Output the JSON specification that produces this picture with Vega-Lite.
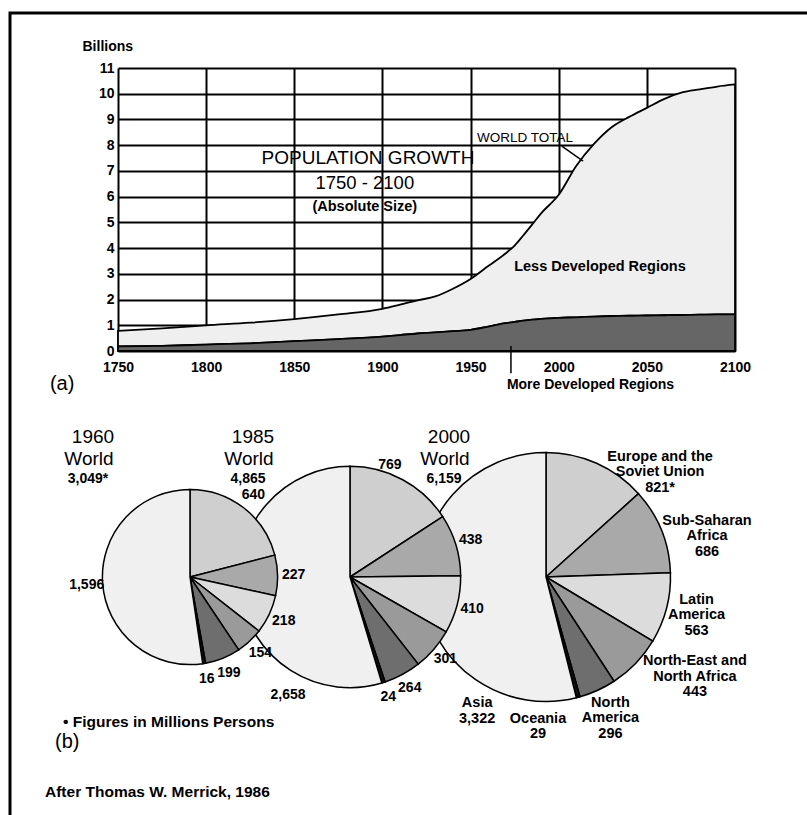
{
  "$schema": "https://vega.github.io/schema/vega-lite/v6.json",
  "width": 800,
  "height": 805,
  "autosize": {"type": "none"},
  "padding": {"left": 10, "top": 13, "right": 0, "bottom": 0},
  "background": "white",
  "config": {
    "view": {"stroke": "black", "strokeWidth": 3},
    "font": "Liberation Sans",
    "text": {"font": "Liberation Sans", "fill": "black"},
    "axis": {"labelFont": "Liberation Sans", "titleFont": "Liberation Sans"}
  },
  "datasets": {
    "pop": [
      {"year": 1750, "world": 0.78, "mdr": 0.18},
      {"year": 1775, "world": 0.88, "mdr": 0.20},
      {"year": 1800, "world": 1.00, "mdr": 0.25},
      {"year": 1825, "world": 1.10, "mdr": 0.30},
      {"year": 1850, "world": 1.24, "mdr": 0.38},
      {"year": 1875, "world": 1.42, "mdr": 0.46},
      {"year": 1900, "world": 1.64, "mdr": 0.56},
      {"year": 1910, "world": 1.80, "mdr": 0.62},
      {"year": 1920, "world": 1.97, "mdr": 0.68},
      {"year": 1930, "world": 2.12, "mdr": 0.72},
      {"year": 1940, "world": 2.42, "mdr": 0.77},
      {"year": 1950, "world": 2.80, "mdr": 0.82},
      {"year": 1960, "world": 3.30, "mdr": 0.95},
      {"year": 1970, "world": 3.80, "mdr": 1.08},
      {"year": 1975, "world": 4.10, "mdr": 1.13},
      {"year": 1980, "world": 4.50, "mdr": 1.18},
      {"year": 1985, "world": 4.92, "mdr": 1.22},
      {"year": 1990, "world": 5.35, "mdr": 1.25},
      {"year": 2000, "world": 6.07, "mdr": 1.29},
      {"year": 2010, "world": 7.20, "mdr": 1.31},
      {"year": 2020, "world": 8.05, "mdr": 1.34},
      {"year": 2030, "world": 8.70, "mdr": 1.36},
      {"year": 2040, "world": 9.10, "mdr": 1.37},
      {"year": 2050, "world": 9.45, "mdr": 1.38},
      {"year": 2060, "world": 9.80, "mdr": 1.39},
      {"year": 2070, "world": 10.05, "mdr": 1.40},
      {"year": 2080, "world": 10.17, "mdr": 1.41},
      {"year": 2090, "world": 10.28, "mdr": 1.42},
      {"year": 2100, "world": 10.36, "mdr": 1.42}
    ],
    "p1960": [
      {"pie": "1960", "total": 3049, "rank": 1, "region": "Europe and the Soviet Union", "value": 640, "label": "640"},
      {"pie": "1960", "total": 3049, "rank": 2, "region": "Sub-Saharan Africa", "value": 227, "label": "227"},
      {"pie": "1960", "total": 3049, "rank": 3, "region": "Latin America", "value": 218, "label": "218"},
      {"pie": "1960", "total": 3049, "rank": 4, "region": "North-East and North Africa", "value": 154, "label": "154"},
      {"pie": "1960", "total": 3049, "rank": 5, "region": "North America", "value": 199, "label": "199"},
      {"pie": "1960", "total": 3049, "rank": 6, "region": "Oceania", "value": 16, "label": "16"},
      {"pie": "1960", "total": 3049, "rank": 7, "region": "Asia", "value": 1596, "label": "1,596"}
    ],
    "p1985": [
      {"pie": "1985", "total": 4865, "rank": 1, "region": "Europe and the Soviet Union", "value": 769, "label": "769"},
      {"pie": "1985", "total": 4865, "rank": 2, "region": "Sub-Saharan Africa", "value": 438, "label": "438"},
      {"pie": "1985", "total": 4865, "rank": 3, "region": "Latin America", "value": 410, "label": "410"},
      {"pie": "1985", "total": 4865, "rank": 4, "region": "North-East and North Africa", "value": 301, "label": "301"},
      {"pie": "1985", "total": 4865, "rank": 5, "region": "North America", "value": 264, "label": "264"},
      {"pie": "1985", "total": 4865, "rank": 6, "region": "Oceania", "value": 24, "label": "24"},
      {"pie": "1985", "total": 4865, "rank": 7, "region": "Asia", "value": 2658, "label": "2,658"}
    ],
    "p2000": [
      {"pie": "2000", "total": 6159, "rank": 1, "region": "Europe and the Soviet Union", "value": 821, "label": "Europe and the\nSoviet Union\n821*"},
      {"pie": "2000", "total": 6159, "rank": 2, "region": "Sub-Saharan Africa", "value": 686, "label": "Sub-Saharan\nAfrica\n686"},
      {"pie": "2000", "total": 6159, "rank": 3, "region": "Latin America", "value": 563, "label": "Latin\nAmerica\n563"},
      {"pie": "2000", "total": 6159, "rank": 4, "region": "North-East and North Africa", "value": 443, "label": "North-East and\nNorth Africa\n443"},
      {"pie": "2000", "total": 6159, "rank": 5, "region": "North America", "value": 296, "label": "North\nAmerica\n296"},
      {"pie": "2000", "total": 6159, "rank": 6, "region": "Oceania", "value": 29, "label": "Oceania\n29"},
      {"pie": "2000", "total": 6159, "rank": 7, "region": "Asia", "value": 3322, "label": "Asia\n3,322"}
    ],
    "titles": [
      {"pie": "1960", "heading": "1960", "total": "3,049*"},
      {"pie": "1985", "heading": "1985", "total": "4,865"},
      {"pie": "2000", "heading": "2000", "total": "6,159"}
    ]
  },
  "resolve": {"scale": {"x": "independent", "y": "independent"}},
  "layer": [
    {
      "layer": [
        {
          "data": {"name": "pop"},
          "mark": {"type": "area", "interpolate": "monotone", "fill": "#efefef", "stroke": "black", "strokeWidth": 1.8},
          "encoding": {
            "x": {
              "field": "year", "type": "quantitative",
              "scale": {"domain": [1750, 2100], "range": [108, 725], "nice": false, "zero": false},
              "axis": {
                "orient": "top", "offset": -55,
                "values": [1750, 1800, 1850, 1900, 1950, 2000, 2050, 2100],
                "format": "d", "grid": true, "gridColor": "black", "gridWidth": 2, "gridOpacity": 1,
                "domain": false, "ticks": false,
                "labelFontSize": 14, "labelFontWeight": "bold", "labelColor": "black",
                "labelPadding": -299, "labelBaseline": "middle", "labelFlush": false, "labelOverlap": false, "title": null
              }
            },
            "y": {
              "field": "world", "type": "quantitative",
              "scale": {"domain": [0, 11], "range": [338, 55], "nice": false, "zero": true},
              "axis": {
                "orient": "left", "offset": -108,
                "values": [0, 1, 2, 3, 4, 5, 6, 7, 8, 9, 10, 11],
                "format": "d", "grid": true, "gridColor": "black", "gridWidth": 2, "gridOpacity": 1,
                "domain": false, "ticks": false,
                "labelFontSize": 14, "labelFontWeight": "bold", "labelColor": "black",
                "labelPadding": 4, "labelOverlap": false,
                "title": "Billions", "titleAngle": 0, "titleAlign": "left", "titleBaseline": "middle",
                "titleX": -36, "titleY": 33, "titleFontSize": 14, "titleFontWeight": "bold", "titleColor": "black"
              }
            },
            "y2": {"field": "mdr"}
          }
        },
        {
          "data": {"name": "pop"},
          "mark": {"type": "area", "interpolate": "monotone", "fill": "#666666", "stroke": "black", "strokeWidth": 1.8},
          "encoding": {
            "x": {"field": "year", "type": "quantitative", "title": null},
            "y": {"field": "mdr", "type": "quantitative", "title": "Billions"}
          }
        },
        {
          "data": {"values": [{"note": "POPULATION GROWTH"}]},
          "mark": {"type": "text", "fontSize": 19},
          "encoding": {"x": {"datum": 1891.8}, "y": {"datum": 7.51}, "text": {"field": "note"}}
        },
        {
          "data": {"values": [{"note": "1750 - 2100"}]},
          "mark": {"type": "text", "fontSize": 18.5},
          "encoding": {"x": {"datum": 1890}, "y": {"datum": 6.52}, "text": {"field": "note"}}
        },
        {
          "data": {"values": [{"note": "(Absolute Size)"}]},
          "mark": {"type": "text", "fontSize": 14.5, "fontWeight": "bold"},
          "encoding": {"x": {"datum": 1890}, "y": {"datum": 5.61}, "text": {"field": "note"}}
        },
        {
          "data": {"values": [{"note": "WORLD TOTAL"}]},
          "mark": {"type": "text", "fontSize": 13.5, "align": "left"},
          "encoding": {"x": {"datum": 1953.6}, "y": {"datum": 8.28}, "text": {"field": "note"}}
        },
        {
          "data": {"values": [{"note": "world total pointer"}]},
          "mark": {"type": "rule", "stroke": "black", "strokeWidth": 1.5},
          "encoding": {"x": {"datum": 2001.8}, "y": {"datum": 7.96}, "x2": {"datum": 2013.8}, "y2": {"datum": 7.38}}
        },
        {
          "data": {"values": [{"note": "Less Developed Regions"}]},
          "mark": {"type": "text", "fontSize": 14.5, "fontWeight": "bold"},
          "encoding": {"x": {"datum": 2023.4}, "y": {"datum": 3.27}, "text": {"field": "note"}}
        },
        {
          "data": {"values": [{"note": "More Developed Regions"}]},
          "mark": {"type": "text", "fontSize": 14, "fontWeight": "bold", "align": "left"},
          "encoding": {"x": {"datum": 1970.6}, "y": {"datum": -1.32}, "text": {"field": "note"}}
        },
        {
          "data": {"values": [{"note": "more developed pointer"}]},
          "mark": {"type": "rule", "stroke": "black", "strokeWidth": 1.5},
          "encoding": {"x": {"datum": 1972.9}, "y": {"datum": 0.19}, "y2": {"datum": -0.86}}
        },
        {
          "data": {"values": [{"note": "(a)"}]},
          "mark": {"type": "text", "fontSize": 20, "align": "left"},
          "encoding": {"x": {"datum": 1711.4}, "y": {"datum": -1.28}, "text": {"field": "note"}}
        }
      ]
    },
    {
      "encoding": {
        "y": {"datum": "pies", "type": "nominal", "scale": {"domain": ["pies"], "range": [544, 584]}, "axis": null}
      },
      "layer": [
        {
          "data": {"name": "p2000"},
          "mark": {"type": "arc", "stroke": "black", "strokeWidth": 1.5},
          "encoding": {
            "x": {
              "field": "pie", "type": "temporal",
              "scale": {"type": "utc", "domainRaw": {"expr": "[-315619200000, 473385600000, 946684800000]"}, "range": [180, 340, 536]},
              "axis": null
            },
            "theta": {"field": "value", "type": "quantitative", "stack": "normalize"},
            "radius": {"field": "total", "type": "quantitative", "scale": {"type": "sqrt", "zero": true, "domain": [0, 6159], "range": [0, 124.5]}},
            "order": {"field": "rank", "type": "quantitative"},
            "color": {"field": "region", "type": "nominal", "legend": null,
              "scale": {"domain": ["Europe and the Soviet Union", "Sub-Saharan Africa", "Latin America", "North-East and North Africa", "North America", "Oceania", "Asia"],
                        "range": ["#cfcfcf", "#a9a9a9", "#dcdcdc", "#9a9a9a", "#6e6e6e", "#111111", "#f0f0f0"]}}
          }
        },
        {
          "data": {"name": "p1985"},
          "mark": {"type": "arc", "stroke": "black", "strokeWidth": 1.5},
          "encoding": {
            "x": {"field": "pie", "type": "temporal", "axis": null},
            "theta": {"field": "value", "type": "quantitative", "stack": "normalize"},
            "radius": {"field": "total", "type": "quantitative"},
            "order": {"field": "rank", "type": "quantitative"},
            "color": {"field": "region", "type": "nominal", "legend": null}
          }
        },
        {
          "data": {"name": "p1960"},
          "mark": {"type": "arc", "stroke": "black", "strokeWidth": 1.5},
          "encoding": {
            "x": {"field": "pie", "type": "temporal", "axis": null},
            "theta": {"field": "value", "type": "quantitative", "stack": "normalize"},
            "radius": {"field": "total", "type": "quantitative"},
            "order": {"field": "rank", "type": "quantitative"},
            "color": {"field": "region", "type": "nominal", "legend": null}
          }
        },
        {
          "data": {"name": "p1960"},
          "mark": {"type": "text", "radiusOffset": 16, "fontSize": 14, "fontWeight": "bold"},
          "encoding": {
            "x": {"field": "pie", "type": "temporal", "axis": null},
            "theta": {"field": "value", "type": "quantitative", "stack": "normalize"},
            "radius": {"field": "total", "type": "quantitative"},
            "order": {"field": "rank", "type": "quantitative"},
            "detail": {"field": "region", "type": "nominal"},
            "text": {"field": "label", "type": "nominal"}
          }
        },
        {
          "data": {"name": "p1985"},
          "mark": {"type": "text", "radiusOffset": 15.5, "fontSize": 14, "fontWeight": "bold"},
          "encoding": {
            "x": {"field": "pie", "type": "temporal", "axis": null},
            "theta": {"field": "value", "type": "quantitative", "stack": "normalize"},
            "radius": {"field": "total", "type": "quantitative"},
            "order": {"field": "rank", "type": "quantitative"},
            "detail": {"field": "region", "type": "nominal"},
            "text": {"condition": {"test": "datum.region === 'Asia' || datum.region === 'Europe and the Soviet Union'", "value": ""}, "field": "label", "type": "nominal"}
          }
        },
        {
          "data": {"name": "p1985"},
          "mark": {"type": "text", "radiusOffset": 8.5, "thetaOffset": -0.155, "fontSize": 14, "fontWeight": "bold"},
          "encoding": {
            "x": {"field": "pie", "type": "temporal", "axis": null},
            "theta": {"field": "value", "type": "quantitative", "stack": "normalize"},
            "radius": {"field": "total", "type": "quantitative"},
            "order": {"field": "rank", "type": "quantitative"},
            "detail": {"field": "region", "type": "nominal"},
            "text": {"condition": {"test": "datum.region !== 'Europe and the Soviet Union'", "value": ""}, "field": "label", "type": "nominal"}
          }
        },
        {
          "data": {"name": "p1985"},
          "mark": {"type": "text", "radiusOffset": 22.6, "thetaOffset": -0.941, "fontSize": 14, "fontWeight": "bold"},
          "encoding": {
            "x": {"field": "pie", "type": "temporal", "axis": null},
            "theta": {"field": "value", "type": "quantitative", "stack": "normalize"},
            "radius": {"field": "total", "type": "quantitative"},
            "order": {"field": "rank", "type": "quantitative"},
            "detail": {"field": "region", "type": "nominal"},
            "text": {"condition": {"test": "datum.region !== 'Asia'", "value": ""}, "field": "label", "type": "nominal"}
          }
        },
        {
          "data": {"name": "p2000"},
          "mark": {"type": "text", "radiusOffset": 31, "dy": -16, "fontSize": 14.5, "fontWeight": "bold", "lineBreak": "\n", "lineHeight": 15.5},
          "encoding": {
            "x": {"field": "pie", "type": "temporal", "axis": null},
            "theta": {"field": "value", "type": "quantitative", "stack": "normalize"},
            "radius": {"field": "total", "type": "quantitative"},
            "order": {"field": "rank", "type": "quantitative"},
            "detail": {"field": "region", "type": "nominal"},
            "text": {"condition": {"test": "datum.region !== 'Latin America' && datum.region !== 'North America'", "value": ""}, "field": "label", "type": "nominal"}
          }
        },
        {
          "data": {"name": "p2000"},
          "mark": {"type": "text", "radiusOffset": 30, "thetaOffset": 0.412, "dy": -16, "fontSize": 14.5, "fontWeight": "bold", "lineBreak": "\n", "lineHeight": 15.5},
          "encoding": {
            "x": {"field": "pie", "type": "temporal", "axis": null},
            "theta": {"field": "value", "type": "quantitative", "stack": "normalize"},
            "radius": {"field": "total", "type": "quantitative"},
            "order": {"field": "rank", "type": "quantitative"},
            "detail": {"field": "region", "type": "nominal"},
            "text": {"condition": {"test": "datum.region !== 'Europe and the Soviet Union'", "value": ""}, "field": "label", "type": "nominal"}
          }
        },
        {
          "data": {"name": "p2000"},
          "mark": {"type": "text", "radiusOffset": 41.4, "thetaOffset": 0.14, "dy": -16, "fontSize": 14.5, "fontWeight": "bold", "lineBreak": "\n", "lineHeight": 15.5},
          "encoding": {
            "x": {"field": "pie", "type": "temporal", "axis": null},
            "theta": {"field": "value", "type": "quantitative", "stack": "normalize"},
            "radius": {"field": "total", "type": "quantitative"},
            "order": {"field": "rank", "type": "quantitative"},
            "detail": {"field": "region", "type": "nominal"},
            "text": {"condition": {"test": "datum.region !== 'Sub-Saharan Africa'", "value": ""}, "field": "label", "type": "nominal"}
          }
        },
        {
          "data": {"name": "p2000"},
          "mark": {"type": "text", "radiusOffset": 54.9, "thetaOffset": -0.175, "dy": -16, "fontSize": 14.5, "fontWeight": "bold", "lineBreak": "\n", "lineHeight": 15.5},
          "encoding": {
            "x": {"field": "pie", "type": "temporal", "axis": null},
            "theta": {"field": "value", "type": "quantitative", "stack": "normalize"},
            "radius": {"field": "total", "type": "quantitative"},
            "order": {"field": "rank", "type": "quantitative"},
            "detail": {"field": "region", "type": "nominal"},
            "text": {"condition": {"test": "datum.region !== 'North-East and North Africa'", "value": ""}, "field": "label", "type": "nominal"}
          }
        },
        {
          "data": {"name": "p2000"},
          "mark": {"type": "text", "radiusOffset": 25.7, "thetaOffset": 0.315, "dy": -8, "fontSize": 14.5, "fontWeight": "bold", "lineBreak": "\n", "lineHeight": 15.5},
          "encoding": {
            "x": {"field": "pie", "type": "temporal", "axis": null},
            "theta": {"field": "value", "type": "quantitative", "stack": "normalize"},
            "radius": {"field": "total", "type": "quantitative"},
            "order": {"field": "rank", "type": "quantitative"},
            "detail": {"field": "region", "type": "nominal"},
            "text": {"condition": {"test": "datum.region !== 'Oceania'", "value": ""}, "field": "label", "type": "nominal"}
          }
        },
        {
          "data": {"name": "p2000"},
          "mark": {"type": "text", "radiusOffset": 26.2, "thetaOffset": -0.973, "dy": -8, "fontSize": 14.5, "fontWeight": "bold", "lineBreak": "\n", "lineHeight": 15.5},
          "encoding": {
            "x": {"field": "pie", "type": "temporal", "axis": null},
            "theta": {"field": "value", "type": "quantitative", "stack": "normalize"},
            "radius": {"field": "total", "type": "quantitative"},
            "order": {"field": "rank", "type": "quantitative"},
            "detail": {"field": "region", "type": "nominal"},
            "text": {"condition": {"test": "datum.region !== 'Asia'", "value": ""}, "field": "label", "type": "nominal"}
          }
        },
        {
          "data": {"name": "titles"},
          "mark": {"type": "text", "fontSize": 19, "dx": -97, "dy": -140},
          "encoding": {"x": {"field": "pie", "type": "temporal", "axis": null}, "text": {"field": "heading", "type": "nominal"}}
        },
        {
          "data": {"name": "titles"},
          "mark": {"type": "text", "text": "World", "fontSize": 19, "dx": -101, "dy": -118},
          "encoding": {"x": {"field": "pie", "type": "temporal", "axis": null}}
        },
        {
          "data": {"name": "titles"},
          "mark": {"type": "text", "fontSize": 14, "fontWeight": "bold", "dx": -102, "dy": -98},
          "encoding": {"x": {"field": "pie", "type": "temporal", "axis": null}, "text": {"field": "total", "type": "nominal"}}
        },
        {
          "data": {"values": [{"note": "• Figures in Millions Persons"}]},
          "mark": {"type": "text", "fontSize": 15.5, "fontWeight": "bold", "align": "left", "dx": -127, "dy": 145},
          "encoding": {"x": {"datum": -315619200000, "type": "temporal"}, "text": {"field": "note"}}
        },
        {
          "data": {"values": [{"note": "(b)"}]},
          "mark": {"type": "text", "fontSize": 20, "align": "left", "dx": -135, "dy": 165},
          "encoding": {"x": {"datum": -315619200000, "type": "temporal"}, "text": {"field": "note"}}
        },
        {
          "data": {"values": [{"note": "After Thomas W. Merrick, 1986"}]},
          "mark": {"type": "text", "fontSize": 15.5, "fontWeight": "bold", "align": "left", "dx": -145, "dy": 215},
          "encoding": {"x": {"datum": -315619200000, "type": "temporal"}, "text": {"field": "note"}}
        }
      ]
    }
  ]
}
